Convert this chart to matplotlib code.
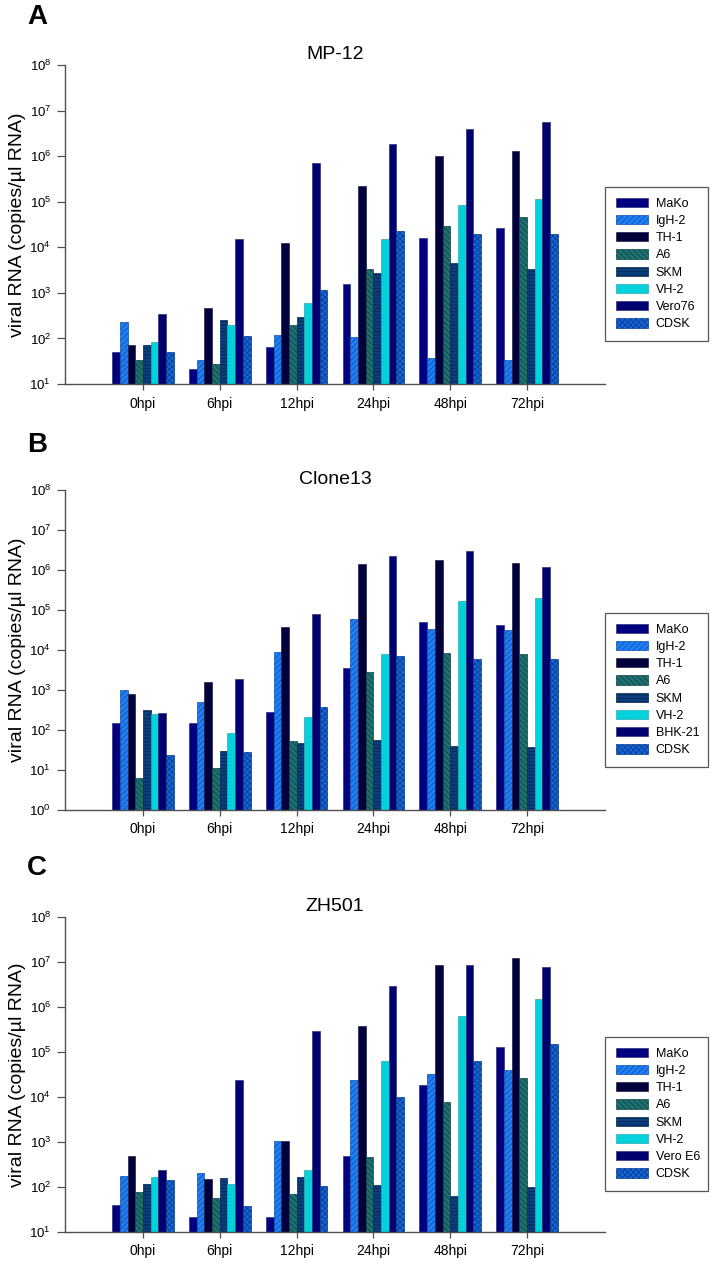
import matplotlib
matplotlib.use("Agg")
import matplotlib.pyplot as plt
import numpy as np

plt.rcParams['font.family'] = ['Liberation Sans', 'DejaVu Sans']
plt.rcParams['hatch.linewidth'] = 0.6
plt.rcParams['mathtext.fontset'] = 'custom'
plt.rcParams['mathtext.rm'] = 'Liberation Sans'

groups = ['0hpi', '6hpi', '12hpi', '24hpi', '48hpi', '72hpi']

# Panel A: MP-12
a_labels = ['MaKo', 'IgH-2', 'TH-1', 'A6', 'SKM', 'VH-2', 'Vero76', 'CDSK']
a_mako = [50, 21, 64, 1550, 16000, 26500]
a_igh2 = [230, 33, 120, 107, 37, 34]
a_th1 = [72, 460, 12300, 226000, 1.03e6, 1.3e6]
a_a6 = [33, 28, 195, 3260, 29000, 46000]
a_skm = [73, 250, 290, 2740, 4600, 3300]
a_vh2 = [85, 195, 600, 15000, 83000, 113000]
a_vero = [340, 15000, 700000, 1.85e6, 4.0e6, 5.5e6]
a_cdsk = [50, 112, 1130, 23000, 19600, 19600]

# Panel B: Clone13
b_labels = ['MaKo', 'IgH-2', 'TH-1', 'A6', 'SKM', 'VH-2', 'BHK-21', 'CDSK']
b_mako = [147, 147, 282, 3550, 49000, 41000]
b_igh2 = [1000, 490, 8900, 60000, 34000, 31000]
b_th1 = [810, 1550, 37000, 1.44e6, 1.74e6, 1.5e6]
b_a6 = [6.3, 11, 54, 2900, 8600, 8100]
b_skm = [325, 30, 46, 55, 39, 37]
b_vh2 = [256, 84, 211, 8100, 165000, 204000]
b_bhk = [270, 1900, 78000, 2.3e6, 3.0e6, 1.17e6]
b_cdsk = [24, 29, 385, 7100, 6100, 6000]

# Panel C: ZH501
c_labels = ['MaKo', 'IgH-2', 'TH-1', 'A6', 'SKM', 'VH-2', 'Vero E6', 'CDSK']
c_mako = [40, 22, 22, 480, 18700, 130000]
c_igh2 = [178, 200, 1030, 23500, 32000, 39000]
c_th1 = [500, 148, 1030, 385000, 8.7e6, 1.25e7]
c_a6 = [77, 57, 71, 465, 7900, 26500]
c_skm = [119, 156, 163, 110, 62, 102]
c_vh2 = [167, 115, 240, 62000, 620000, 1.48e6]
c_vero = [243, 23500, 290000, 2.96e6, 8.7e6, 7.6e6]
c_cdsk = [145, 38, 106, 9800, 62000, 153000]

# styles: (face, edge/hatch colour, hatch)
styles = [
    ('#000080', '#30307a', None),
    ('#1e80f5', '#1050b0', '//////'),
    ('#00003c', '#202050', None),
    ('#1f7070', '#0d4545', '\\\\\\\\\\\\'),
    ('#0a3f80', '#05284f', '-----'),
    ('#00d2dc', '#30a8b0', None),
    ('#000070', '#30307a', None),
    ('#1466dc', '#0a3c90', 'xxxxxx'),
]

W, H = 714, 1264
fig = plt.figure(figsize=(W / 100, H / 100), dpi=100)

panels = [
    dict(letter='A', title='MP-12', labels=a_labels,
         data=[a_mako, a_igh2, a_th1, a_a6, a_skm, a_vh2, a_vero, a_cdsk],
         top=65, bottom=384, ymin=1, leg_top=187, letter_y=17),
    dict(letter='B', title='Clone13', labels=b_labels,
         data=[b_mako, b_igh2, b_th1, b_a6, b_skm, b_vh2, b_bhk, b_cdsk],
         top=490, bottom=810, ymin=0, leg_top=613, letter_y=445),
    dict(letter='C', title='ZH501', labels=c_labels,
         data=[c_mako, c_igh2, c_th1, c_a6, c_skm, c_vh2, c_vero, c_cdsk],
         top=917, bottom=1232, ymin=1, leg_top=1037, letter_y=868),
]

left_px, right_px = 65, 605
x = np.arange(len(groups))
bw = 0.1
spine_col = '#505050'

for p in panels:
    ax = fig.add_axes([left_px / W, 1 - p['bottom'] / H,
                       (right_px - left_px) / W, (p['bottom'] - p['top']) / H])
    ax.set_yscale('log')
    ymin = 10.0 ** p['ymin']
    handles = []
    for j, (vals, (fc, ec, hatch)) in enumerate(zip(p['data'], styles)):
        vals = np.asarray(vals, dtype=float)
        b = ax.bar(x + (j - 3.5) * bw, vals - ymin, bottom=ymin, width=bw,
                   color=fc, edgecolor=ec, linewidth=0.5, hatch=hatch,
                   label=p['labels'][j], zorder=2)
        handles.append(b)
    ax.set_ylim(ymin, 1e8)
    ax.set_xlim(-1.016, 6.016)
    ax.set_yticks([10.0 ** k for k in range(p['ymin'], 9)])
    ax.yaxis.set_minor_locator(matplotlib.ticker.NullLocator())
    ax.set_xticks(x)
    ax.set_xticklabels(groups, fontsize=10)
    ax.tick_params(axis='y', labelsize=9.5, length=6, width=0.9, color=spine_col, pad=4)
    ax.tick_params(axis='x', length=4, width=0.9, color=spine_col, pad=5)
    for s in ['top', 'right']:
        ax.spines[s].set_visible(False)
    for s in ['left', 'bottom']:
        ax.spines[s].set_color(spine_col)
        ax.spines[s].set_linewidth(1.0)
    ax.set_ylabel('viral RNA (copies/µl RNA)', fontsize=14)
    ax.yaxis.set_label_coords(-(left_px - 26) / (right_px - left_px), 0.5)
    ax.set_title(p['title'], fontsize=14, pad=4)
    fig.text(27 / W, 1 - p['letter_y'] / H, p['letter'], fontsize=20,
             fontweight='bold', ha='left', va='center')
    lg_h = 155
    leg = ax.legend(handles=handles, loc='upper left',
                    bbox_to_anchor=(605 / W, 1 - (p['leg_top'] + lg_h) / H, 103 / W, lg_h / H),
                    bbox_transform=fig.transFigure, mode='expand',
                    fontsize=9, handlelength=2.6, handleheight=0.75,
                    labelspacing=0.42, borderpad=0.85, handletextpad=0.6,
                    borderaxespad=0, fancybox=False, framealpha=1)
    leg.get_frame().set_edgecolor('#555555')
    leg.get_frame().set_linewidth(0.9)

fig.savefig('out.png', dpi=100)
